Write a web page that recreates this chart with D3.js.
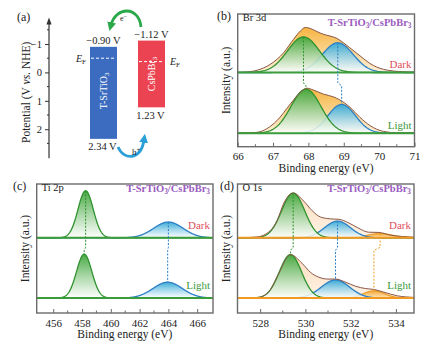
<!DOCTYPE html>
<html>
<head>
<meta charset="utf-8">
<script src="https://cdn.jsdelivr.net/npm/d3@7"></script>
<style>
  body { margin: 0; background: #fff; }
  svg { font-family: "Liberation Serif", "DejaVu Serif", serif; }
</style>
</head>
<body>
<svg id="fig" width="437" height="345" font-family="Liberation Serif, serif"></svg>
<script>
/*
** Data
*/
// (a) band edges, V vs. NHE
var materials = ["T-SrTiO3", "CsPbBr3"]
  , cbLevels = [-0.90, -1.12]
  , vbLevels = [2.34, 1.23]
  , fermiLevels = [-0.50, -0.38]
  , potentialTicks = [-1, 0, 1, 2]
  , potentialMinor = [-1.5, -0.5, 0.5, 1.5, 2.5]
;
// XPS fitted components: [centre eV, height a.u., fwhm eV]
var brDark  = [[67.86, 79, 1.07], [68.83, 66, 1.03]]
  , brLight = [[67.93, 98, 1.0], [68.94, 64, 0.92]]
  , tiDark  = [[458.25, 104, 1.25], [464.0, 35, 2.4]]
  , tiLight = [[458.15, 97, 1.25], [463.95, 35, 2.4]]
  , oDark   = [[529.46, 99, 1.2], [531.42, 37, 1.35], [533.3, 9.5, 1.3]]
  , oLight  = [[529.34, 96, 1.15], [531.33, 40, 1.47], [533.03, 16, 1.1]]
;
// measured envelopes: [eV, a.u.]
var brDarkEnv = [[66.0, 0], [66.17, 0.5], [66.55, 5], [66.92, 18], [67.3, 44], [67.58, 74],
        [67.77, 92], [67.91, 100], [68.05, 98], [68.24, 91], [68.42, 85], [68.61, 81],
        [68.8, 76], [68.99, 66], [69.17, 55], [69.46, 37], [69.74, 20], [70.12, 7],
        [70.68, 1.5], [71.0, 0.7]]
  , brLightEnv = [[66.0, 0], [66.2, 0.3], [66.55, 2], [67.11, 28], [67.49, 65], [67.77, 91],
        [67.96, 100], [68.14, 96], [68.42, 87], [68.7, 81], [68.89, 74], [69.17, 58],
        [69.46, 35], [69.74, 17], [70.12, 4], [70.5, 0.7], [71.0, 0]]
  , oDarkEnv = [[527.0, 0], [527.86, 2], [528.45, 16], [528.75, 38], [529.05, 77], [529.46, 99],
        [529.93, 81], [530.3, 60], [530.67, 46], [531.1, 42], [531.48, 41], [531.92, 33],
        [532.36, 21], [532.8, 12.5], [533.25, 12], [533.76, 6], [534.3, 3], [534.8, 1.5]]
  , oLightEnv = [[527.0, 0], [527.9, 1.3], [528.4, 15], [528.8, 52], [529.34, 96], [529.85, 77],
        [530.22, 57], [530.6, 46], [530.97, 42], [531.33, 42], [531.78, 35], [532.22, 26],
        [532.66, 21], [533.03, 19], [533.47, 13], [534.06, 5], [534.8, 1.5]]
;
var brTicks = [66, 67, 68, 69, 70, 71]
  , tiTicks = [456, 458, 460, 462, 464, 466]
  , oTicks  = [528, 530, 532, 534]
  , rowLabels = ["Dark", "Light"]
;

var svg = d3.select("#fig")
  , defs = svg.append("defs")
  , C = {
        green: "#2f922f", blue: "#2c7fc6", orange: "#eea02a",
        env: "#8a5646", frame: "#6b6b6b", purple: "#9a5cc0",
        dark: "#e0505c", light: "#3a9a3a"
    }
;

function gradient(id, top, bottom, o1, o2) {
    var g = defs.append("linearGradient")
        .attr("id", id).attr("x1", 0).attr("x2", 0).attr("y1", 0).attr("y2", 1);
    g.append("stop").attr("offset", "0%").attr("stop-color", top).attr("stop-opacity", o1);
    g.append("stop").attr("offset", "100%").attr("stop-color", bottom).attr("stop-opacity", o2);
} // gradient()
gradient("gGreen", "#3fa63a", "#ffffff", 0.95, 0.85);
gradient("gBlue", "#32a8d6", "#ffffff", 0.95, 0.8);
gradient("gOrange", "#f3a52a", "#fde7bd", 0.95, 0.9);
gradient("gEnv", "#f6b440", "#fff1d8", 1, 1);
gradient("gPeach", "#fbdcbd", "#fff3e6", 1, 1);

function chem(sel, parts) {
    // parts: [text, isSub]
    parts.forEach(function(p) {
        var t = sel.append("tspan").text(p[0]);
        if(p[1]) t.attr("font-size", "0.7em").attr("baseline-shift", "-25%");
    });
    return sel;
} // chem()

/*
** Panel (a): band diagram
*/
function bandPanel() {
    var g = svg.append("g")
      , y = d3.scaleLinear().domain([-1, 2]).range([44, 129.2])
      , x = d3.scaleBand().domain(materials).range([90, 165]).paddingInner(0.4375)
      , fills = ["#3b6cc0", "#ec4352"]
    ;
    // axis with arrow
    g.append("line").attr("x1", 49).attr("x2", 49)
        .attr("y1", y(3.02)).attr("y2", y(-1.75))
        .attr("stroke", "#333").attr("stroke-width", 1.2);
    g.append("path").attr("d", "M49," + y(-1.93) + "l-2.6,7h5.2z").attr("fill", "#333");
    var ax = g.append("g").attr("transform", "translate(49,0)")
        .call(d3.axisLeft(y).tickValues(potentialTicks).tickSize(4).tickPadding(3)
            .tickFormat(function(d) { return d < 0 ? "\u2212" + Math.abs(d) : d; }));
    ax.attr("font-family", null);
    ax.select(".domain").remove();
    ax.selectAll("line").attr("stroke", "#333");
    ax.selectAll("text").attr("font-size", 10.5).attr("fill", "#222");
    g.selectAll(".minor").data(potentialMinor).enter().append("line")
        .attr("x1", 47).attr("x2", 49)
        .attr("y1", function(d) { return y(d); }).attr("y2", function(d) { return y(d); })
        .attr("stroke", "#333");

    var ylab = g.append("text")
        .attr("transform", "translate(30," + y(0.7) + ") rotate(-90)")
        .attr("text-anchor", "middle").attr("font-size", 11.5).attr("fill", "#222");
    ylab.append("tspan").text("Potential (V ");
    ylab.append("tspan").attr("font-style", "italic").text("vs.");
    ylab.append("tspan").text(" NHE)");

    // bars
    g.selectAll("rect.band").data(materials).enter().append("rect")
        .attr("x", function(d) { return x(d); })
        .attr("width", x.bandwidth())
        .attr("y", function(d, i) { return y(cbLevels[i]); })
        .attr("height", function(d, i) { return y(vbLevels[i]) - y(cbLevels[i]); })
        .attr("fill", function(d, i) { return fills[i]; });
    g.selectAll("line.ef").data(materials).enter().append("line")
        .attr("x1", function(d) { return x(d) + 1; })
        .attr("x2", function(d) { return x(d) + x.bandwidth() - 1; })
        .attr("y1", function(d, i) { return y(fermiLevels[i]); })
        .attr("y2", function(d, i) { return y(fermiLevels[i]); })
        .attr("stroke", "#fff").attr("stroke-width", 1).attr("stroke-dasharray", "3,2");

    // band labels inside bars
    materials.forEach(function(m, i) {
        var cx = x(m) + x.bandwidth() / 2
          , cy = i === 0 ? y(0.65) : y((cbLevels[i] + vbLevels[i]) / 2)
          , t = g.append("text")
                .attr("transform", "translate(" + (cx + 3.5) + "," + cy + ") rotate(-90)")
                .attr("text-anchor", "middle").attr("font-size", 10).attr("fill", "#fff")
        ;
        chem(t, i === 0 ? [["T-SrTiO", 0], ["3", 1]] : [["CsPbBr", 0], ["3", 1]]);
        var f = function(v) { return (v < 0 ? "\u2212" : "") + Math.abs(v).toFixed(2) + " V"; };
        g.append("text").attr("x", cx).attr("y", y(cbLevels[i]) - 3)
            .attr("text-anchor", "middle").attr("font-size", 10.5).attr("fill", "#222")
            .text(f(cbLevels[i]));
        g.append("text").attr("x", cx - 1).attr("y", y(vbLevels[i]) + 11.5)
            .attr("text-anchor", "middle").attr("font-size", 10.5).attr("fill", "#222")
            .text(f(vbLevels[i]));
        var ef = g.append("text")
            .attr("x", i === 0 ? x(m) - 4 : x(m) + x.bandwidth() + 5)
            .attr("y", y(fermiLevels[i]) + 3.5)
            .attr("text-anchor", i === 0 ? "end" : "start")
            .attr("font-size", 10).attr("fill", "#222");
        ef.append("tspan").attr("font-style", "italic").text("E");
        ef.append("tspan").attr("font-size", "0.7em").attr("baseline-shift", "-25%").text("F");
    });

    // charge transfer arrows
    var mk = function(id, col) {
        defs.append("marker").attr("id", id).attr("viewBox", "0 0 10 10")
            .attr("refX", 3).attr("refY", 5).attr("markerWidth", 3.2).attr("markerHeight", 3.2)
            .attr("orient", "auto")
          .append("path").attr("d", "M0,0L10,5L0,10z").attr("fill", col);
    };
    mk("arrG", "#2aa84a");
    mk("arrB", "#2b9fd8");
    g.append("path").attr("d", "M141,27 C139,6 116,6 111,25")
        .attr("fill", "none").attr("stroke", "#2aa84a").attr("stroke-width", 2.8)
        .attr("marker-end", "url(#arrG)");
    g.append("path").attr("d", "M118,147 C124,161 141,160 144,140")
        .attr("fill", "none").attr("stroke", "#2b9fd8").attr("stroke-width", 2.8)
        .attr("marker-end", "url(#arrB)");
    var e = g.append("text").attr("x", 120).attr("y", 21).attr("font-size", 8).attr("fill", "#222");
    e.append("tspan").text("e");
    e.append("tspan").attr("font-size", "0.75em").attr("baseline-shift", "45%").text("\u2212");
    var h = g.append("text").attr("x", 132).attr("y", 155).attr("font-size", 9).attr("fill", "#222");
    h.append("tspan").text("h");
    h.append("tspan").attr("font-size", "0.75em").attr("baseline-shift", "45%").text("+");

    g.append("text").attr("x", 17).attr("y", 21).attr("font-size", 12).attr("fill", "#222").text("(a)");
} // bandPanel()

/*
** XPS panels (b)-(d)
*/
function gauss(p, e) {
    return p[1] * Math.exp(-4 * Math.LN2 * Math.pow(e - p[0], 2) / (p[2] * p[2]));
} // gauss()

function xpsPanel(cfg) {
    var g = svg.append("g")
      , x = d3.scaleLinear().domain(cfg.domain).range([cfg.left, cfg.right])
      , y = d3.scaleLinear().domain(cfg.yDomain).range([cfg.bottom, cfg.top])
      , es = d3.range(cfg.domain[0], cfg.domain[1] + 0.001, 0.02)
      , cols = cfg.colors
    ;
    cfg.rows.forEach(function(peaks, r) {
        var off = r === 0 ? cfg.offset : 0
          , area = function(fn) {
                return d3.area().x(function(e) { return x(e); })
                    .y0(y(off)).y1(function(e) { return y(off + fn(e)); })(es);
            }
          , line = function(fn) {
                return d3.line().x(function(e) { return x(e); })
                    .y(function(e) { return y(off + fn(e)); })(es);
            }
          , env = cfg.envs ? cfg.envs[r] : null
        ;
        if(env)
            g.append("path")
                .attr("d", d3.area().curve(d3.curveMonotoneX)
                    .x(function(d) { return x(d[0]); })
                    .y0(y(off)).y1(function(d) { return y(off + d[1]); })(env))
                .attr("fill", cfg.envFill);
        // back to front so the first component sits on top
        peaks.slice().reverse().forEach(function(p, k) {
            var i = peaks.length - 1 - k
              , fn = function(e) { return gauss(p, e); }
            ;
            g.append("path").attr("d", area(fn)).attr("fill", cols[i].fill);
            g.append("path").attr("d", line(fn)).attr("fill", "none")
                .attr("stroke", cols[i].line).attr("stroke-width", 1.3);
        });
        if(env)
            g.append("path")
                .attr("d", d3.line().curve(d3.curveMonotoneX)
                    .x(function(d) { return x(d[0]); })
                    .y(function(d) { return y(off + d[1]); })(env))
                .attr("fill", "none").attr("stroke", C.env).attr("stroke-width", 1);
        g.append("line").attr("x1", cfg.left).attr("x2", cfg.right)
            .attr("y1", y(off)).attr("y2", y(off))
            .attr("stroke", cfg.baseColor).attr("stroke-width", 2);
        g.append("text").attr("x", cfg.right - 3).attr("y", y(off) - cfg.labelDy)
            .attr("text-anchor", "end").attr("font-size", 11)
            .attr("fill", r === 0 ? C.dark : C.light).text(rowLabels[r]);
    });

    // dashed guides from dark peaks to light peaks
    cfg.rows[0].forEach(function(p, i) {
        var q = cfg.rows[1][i]
          , ys = y(cfg.step)
          , d = "M" + x(p[0]) + "," + y(cfg.offset + p[1]) + "V" + ys
              + "L" + x(q[0]) + "," + (ys + 3) + "V" + y(q[1])
        ;
        g.append("path").attr("d", d).attr("fill", "none")
            .attr("stroke", cols[i].line).attr("stroke-width", 1)
            .attr("stroke-dasharray", "2,1.5");
    });

    // frame and axis
    g.append("rect").attr("x", cfg.left).attr("y", cfg.top)
        .attr("width", cfg.right - cfg.left).attr("height", cfg.bottom - cfg.top)
        .attr("fill", "none").attr("stroke", C.frame).attr("stroke-width", 1.4);
    var ax = g.append("g").attr("transform", "translate(0," + cfg.bottom + ")")
        .call(d3.axisBottom(x).tickValues(cfg.ticks).tickSize(-4).tickPadding(6).tickFormat(d3.format("d")));
    ax.attr("font-family", null);
    ax.select(".domain").remove();
    ax.selectAll("line").attr("stroke", C.frame);
    ax.selectAll("text").attr("font-size", 11).attr("fill", "#222");
    var minor = d3.pairs(cfg.ticks).map(function(t) { return (t[0] + t[1]) / 2; });
    g.selectAll(".mn").data(minor).enter().append("line")
        .attr("x1", function(d) { return x(d); }).attr("x2", function(d) { return x(d); })
        .attr("y1", cfg.bottom).attr("y2", cfg.bottom - 2.5).attr("stroke", C.frame);

    g.append("text").attr("x", (cfg.left + cfg.right) / 2).attr("y", cfg.bottom + 25)
        .attr("text-anchor", "middle").attr("font-size", 11.5).attr("fill", "#222")
        .text("Binding energy (eV)");
    g.append("text")
        .attr("transform", "translate(" + (cfg.left - 8) + "," + ((cfg.top + cfg.bottom) / 2) + ") rotate(-90)")
        .attr("text-anchor", "middle").attr("font-size", 11.5).attr("fill", "#222")
        .text("Intensity (a.u.)");

    g.append("text").attr("x", cfg.letterX).attr("y", cfg.top + 6)
        .attr("font-size", 12).attr("fill", "#222").text(cfg.letter);
    g.append("text").attr("x", cfg.left + 5).attr("y", cfg.top + 7)
        .attr("font-size", 10.5).attr("fill", "#222").text(cfg.element);
    var t = g.append("text").attr("x", cfg.right - 3).attr("y", cfg.top + cfg.titleDy)
        .attr("text-anchor", "end").attr("font-size", 10.5).attr("font-weight", "bold")
        .attr("fill", C.purple);
    chem(t, [["T-SrTiO", 0], ["3", 1], ["/CsPbBr", 0], ["3", 1]]);
} // xpsPanel()

var greenC = { fill: "url(#gGreen)", line: C.green }
  , blueC = { fill: "url(#gBlue)", line: C.blue }
  , orangeC = { fill: "url(#gOrange)", line: C.orange }
;

bandPanel();
xpsPanel({
    left: 237.7, right: 414.5, top: 14, bottom: 146.7, domain: [66, 71],
    yDomain: [-30, 265], offset: 135, step: 112, rows: [brDark, brLight],
    envs: [brDarkEnv, brLightEnv], colors: [greenC, blueC], envFill: "url(#gEnv)",
    baseColor: "#3a9c3a", ticks: brTicks, labelDy: 4, titleDy: 12,
    letter: "(b)", letterX: 217, element: "Br 3d"
});
xpsPanel({
    left: 36.7, right: 213, top: 184, bottom: 313, domain: [454.85, 467.1],
    yDomain: [-33, 252], offset: 133, step: 112, rows: [tiDark, tiLight],
    envs: null, colors: [greenC, blueC], envFill: null,
    baseColor: "#3a9c3a", ticks: tiTicks, labelDy: 9, titleDy: 8,
    letter: "(c)", letterX: 13, element: "Ti 2p"
});
xpsPanel({
    left: 237.5, right: 414, top: 184, bottom: 313, domain: [527, 534.8],
    yDomain: [-33, 252], offset: 133, step: 112, rows: [oDark, oLight],
    envs: [oDarkEnv, oLightEnv], colors: [greenC, blueC, orangeC], envFill: "url(#gPeach)",
    baseColor: "#f09a22", ticks: oTicks, labelDy: 9, titleDy: 8,
    letter: "(d)", letterX: 220, element: "O 1s"
});
</script>
</body>
</html>
